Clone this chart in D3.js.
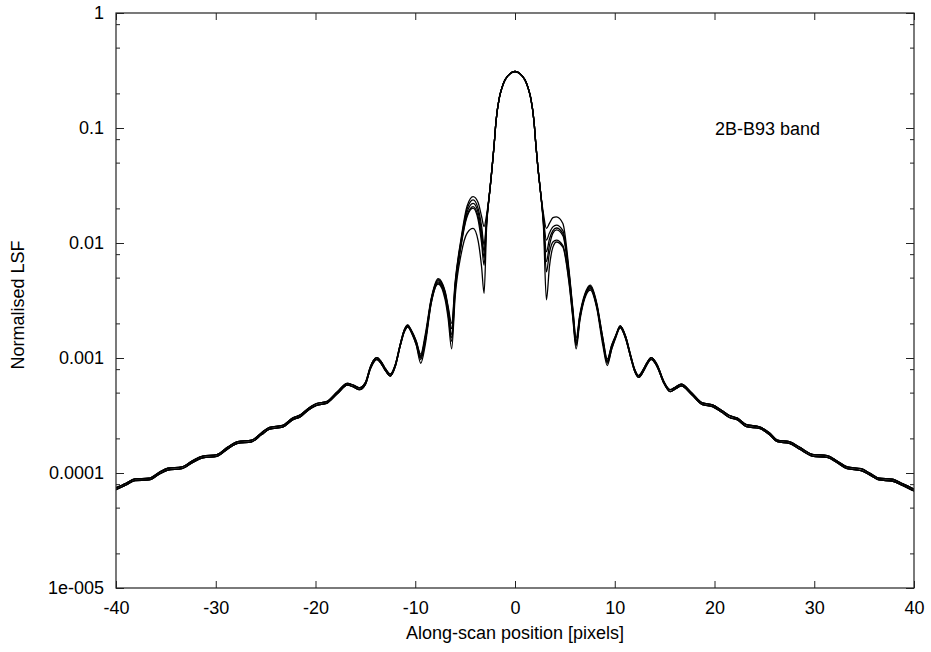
<!DOCTYPE html>
<html><head><meta charset="utf-8">
<script src="https://cdn.jsdelivr.net/npm/d3@7"></script>
<style>
body{margin:0;background:#fff}
svg{display:block}
text{font-family:"Liberation Sans",Arial,Helvetica,sans-serif;fill:#000}
</style>
</head><body>
<svg id="chart" width="931" height="652"></svg>
<script>
// ---- tick definitions ----
const xTickValues = [-40,-30,-20,-10,0,10,20,30,40];
const xTickLabels = ["-40","-30","-20","-10","0","10","20","30","40"];
const yTickValues = [1e-5,1e-4,1e-3,1e-2,1e-1,1];
const yTickLabels = ["1e-005","0.0001","0.001","0.01","0.1","1"];
const yMinorValues = [2e-5,5e-5,8e-5,2e-4,5e-4,8e-4,2e-3,5e-3,8e-3,2e-2,5e-2,8e-2,2e-1,5e-1,8e-1];

// ---- left wing: upper and lower edge of the bundle of curves ----
const wingLeftX = [-40,-39,-38.1,-36.7,-35.7,-34.8,-33.4,-32.3,-31.3,-29.9,-28.8,-27.8,-26.4,-25.4,-24.6,-23.3,-22.3,-21.5,-20.7,-19.9,-18.9,-17.8,-16.8,-16.2,-15.6,-15.0,-14.5,-14.2,-13.85,-13.45,-13.1,-12.5,-12.0,-11.5,-11.1,-10.75];
const wingLeftHi = [7.43e-5,8.14e-5,8.9e-5,9.0e-5,1.008e-4,1.10e-4,1.13e-4,1.283e-4,1.405e-4,1.446e-4,1.68e-4,1.873e-4,1.934e-4,2.24e-4,2.494e-4,2.596e-4,3.0e-4,3.21e-4,3.66e-4,4.02e-4,4.17e-4,5.09e-4,6.0e-4,5.8e-4,5.5e-4,6.1e-4,8.35e-4,9.47e-4,1.008e-3,9.37e-4,8.35e-4,7.23e-4,8.75e-4,1.32e-3,1.75e-3,1.93e-3];
const wingLeftLo = [7.17e-5,7.86e-5,8.6e-5,8.7e-5,9.72e-5,1.06e-4,1.09e-4,1.237e-4,1.355e-4,1.395e-4,1.62e-4,1.807e-4,1.866e-4,2.16e-4,2.406e-4,2.504e-4,2.9e-4,3.09e-4,3.54e-4,3.88e-4,4.03e-4,4.91e-4,5.8e-4,5.6e-4,5.3e-4,5.9e-4,8.05e-4,9.13e-4,9.72e-4,9.03e-4,8.05e-4,6.97e-4,8.45e-4,1.28e-3,1.69e-3,1.87e-3];

// ---- right wing ----
const wingRightX = [10.55,11.1,11.6,12.0,12.38,13.0,13.25,13.65,14.05,14.3,14.9,15.56,16.1,16.66,17.7,18.8,19.8,20.7,21.5,22.3,23.2,24.5,25.5,26.3,27.5,28.6,29.8,31.3,32.3,33.3,34.7,35.6,36.5,37.8,38.9,40];
const wingRightHi = [1.90e-3,1.53e-3,1.05e-3,7.94e-4,7.02e-4,8.35e-4,9.16e-4,1.008e-3,9.37e-4,8.55e-4,6.3e-4,5.3e-4,5.6e-4,5.92e-4,4.99e-4,4.07e-4,3.92e-4,3.51e-4,3.16e-4,3.0e-4,2.63e-4,2.52e-4,2.24e-4,1.93e-4,1.87e-4,1.66e-4,1.455e-4,1.415e-4,1.27e-4,1.13e-4,1.09e-4,9.93e-5,9.0e-5,8.84e-5,8.04e-5,7.23e-5];
const wingRightLo = [1.84e-3,1.47e-3,1.01e-3,7.66e-4,6.78e-4,8.05e-4,8.84e-4,9.72e-4,9.03e-4,8.25e-4,6.1e-4,5.1e-4,5.4e-4,5.72e-4,4.81e-4,3.93e-4,3.78e-4,3.39e-4,3.04e-4,2.9e-4,2.53e-4,2.44e-4,2.16e-4,1.87e-4,1.81e-4,1.6e-4,1.405e-4,1.365e-4,1.23e-4,1.09e-4,1.05e-4,9.57e-5,8.7e-5,8.52e-5,7.76e-5,6.97e-5];

// ---- core region, one array per curve ----
const coreX = [-10.4,-9.9,-9.45,-9.0,-8.4,-7.7,-7.0,-6.7,-6.35,-6.0,-5.4,-4.8,-4.2,-3.7,-3.35,-3.1,-2.85,-2.5,-2.3,-2.1,-1.9,-1.6,-1.3,-1.0,-0.5,0,0.5,1.0,1.3,1.6,1.9,2.1,2.3,2.5,2.85,3.15,3.45,3.8,4.15,4.8,5.4,5.8,6.13,6.5,7.0,7.55,8.2,8.8,9.25,9.7,10.1];
const curveA = [0.00175,0.00140,0.00108,0.0016,0.0033,0.0049,0.0038,0.0028,0.0020,0.0046,0.0110,0.0210,0.0253,0.0225,0.0170,0.0139,0.0175,0.030,0.045,0.070,0.115,0.178,0.225,0.262,0.297,0.31,0.297,0.262,0.225,0.178,0.115,0.070,0.045,0.031,0.0180,0.0134,0.0148,0.0166,0.0169,0.0148,0.0060,0.0027,0.0015,0.0024,0.0036,0.0043,0.0030,0.0015,0.00098,0.0013,0.00158];
const curveB = [0.00173,0.00140,0.00105,0.0015,0.0032,0.0048,0.0037,0.0027,0.0018,0.0044,0.0106,0.0198,0.0237,0.0200,0.0140,0.0096,0.0160,0.030,0.045,0.070,0.115,0.178,0.225,0.262,0.297,0.31,0.297,0.262,0.225,0.178,0.115,0.070,0.045,0.031,0.0165,0.0106,0.0122,0.0138,0.0143,0.0128,0.0057,0.0026,0.0014,0.0023,0.0035,0.0042,0.0029,0.0015,0.00095,0.0013,0.00156];
const curveC = [0.00172,0.00135,0.00102,0.0015,0.0032,0.0047,0.0036,0.0026,0.0016,0.0042,0.0102,0.0186,0.0221,0.0185,0.0125,0.0084,0.0155,0.030,0.045,0.070,0.115,0.178,0.225,0.262,0.297,0.31,0.297,0.262,0.225,0.178,0.115,0.070,0.045,0.031,0.0160,0.0084,0.0108,0.0128,0.0135,0.0121,0.0055,0.0025,0.00135,0.0023,0.0035,0.0042,0.0029,0.0014,0.00093,0.00125,0.00155];
const curveD = [0.00170,0.00135,0.00100,0.0014,0.0031,0.0046,0.0035,0.0025,0.0015,0.0040,0.0098,0.0175,0.0207,0.0170,0.0112,0.0074,0.0150,0.030,0.045,0.070,0.115,0.178,0.225,0.262,0.297,0.31,0.297,0.262,0.225,0.178,0.115,0.070,0.045,0.031,0.0155,0.0069,0.0095,0.0122,0.0130,0.0116,0.0053,0.0024,0.0013,0.0022,0.0034,0.0041,0.0028,0.0014,0.00092,0.00125,0.00154];
const curveE = [0.00169,0.00130,0.00097,0.0014,0.0030,0.0045,0.0034,0.0024,0.0014,0.0038,0.0095,0.0170,0.0201,0.0160,0.0100,0.0064,0.0145,0.030,0.045,0.070,0.115,0.178,0.225,0.262,0.297,0.31,0.297,0.262,0.225,0.178,0.115,0.070,0.045,0.031,0.0150,0.0056,0.0082,0.0102,0.0106,0.0095,0.0048,0.0023,0.00128,0.0022,0.0034,0.0040,0.0028,0.0014,0.00090,0.0012,0.00153];
const curveF = [0.00167,0.00130,0.00090,0.0013,0.0030,0.0044,0.0032,0.0022,0.0012,0.0034,0.0080,0.0122,0.0134,0.0105,0.0062,0.00365,0.0135,0.030,0.045,0.070,0.115,0.178,0.225,0.262,0.297,0.31,0.297,0.262,0.225,0.178,0.115,0.070,0.045,0.031,0.0140,0.0032,0.0062,0.0092,0.0102,0.0092,0.0046,0.0022,0.0012,0.0021,0.0033,0.0039,0.0027,0.0013,0.00086,0.0012,0.00150];
const coreSeries = [curveA,curveB,curveC,curveD,curveE,curveF];
const seriesWingEdge = ["hi","lo","hi","lo","hi","lo"];

// ---- layout ----
const plot = {left:116, right:914, top:13, bottom:588};
const FS = "18px";
const svg = d3.select("#chart");

const x = d3.scaleLinear().domain([-40,40]).range([plot.left, plot.right]);
const y = d3.scaleLog().domain([1e-5,1]).range([plot.bottom, plot.top]);

svg.append("defs").append("clipPath").attr("id","clip")
  .append("rect").attr("x",plot.left).attr("y",plot.top)
  .attr("width",plot.right-plot.left).attr("height",plot.bottom-plot.top);

const series = coreSeries.map((core,k) => {
  const hi = seriesWingEdge[k] === "hi";
  const wl = hi ? wingLeftHi : wingLeftLo;
  const wr = hi ? wingRightHi : wingRightLo;
  const pts = [];
  wingLeftX.forEach((xv,i)=>pts.push([xv, wl[i]]));
  coreX.forEach((xv,i)=>pts.push([xv, core[i]]));
  wingRightX.forEach((xv,i)=>pts.push([xv, wr[i]]));
  return pts;
});

const line = d3.line().x(d=>x(d[0])).y(d=>y(d[1])).curve(d3.curveMonotoneX);

svg.append("g").attr("clip-path","url(#clip)")
  .selectAll("path").data(series).join("path")
  .attr("d", line)
  .attr("fill","none").attr("stroke","#000").attr("stroke-width",1.3);

const axColor = "#222";
function styleAxis(g){
  g.select(".domain").remove();
  g.selectAll(".tick line").attr("stroke",axColor).attr("stroke-width",1);
  g.selectAll(".tick text").style("font-size",FS).attr("fill","#000");
}
svg.append("g").attr("transform",`translate(0,${plot.bottom})`)
  .call(d3.axisBottom(x).tickValues(xTickValues).tickSize(-7).tickPadding(13).tickFormat((d,i)=>xTickLabels[i]))
  .call(styleAxis);
svg.append("g").attr("transform",`translate(0,${plot.top})`)
  .call(d3.axisTop(x).tickValues(xTickValues).tickSize(-7).tickFormat(""))
  .call(styleAxis);
svg.append("g").attr("transform",`translate(${plot.left},0)`)
  .call(d3.axisLeft(y).tickValues(yTickValues).tickSize(-8).tickPadding(12).tickFormat((d,i)=>yTickLabels[i]))
  .call(styleAxis);
svg.append("g").attr("transform",`translate(${plot.right},0)`)
  .call(d3.axisRight(y).tickValues(yTickValues).tickSize(-8).tickFormat(""))
  .call(styleAxis);
svg.append("g").attr("transform",`translate(${plot.left},0)`)
  .call(d3.axisLeft(y).tickValues(yMinorValues).tickSize(-4).tickFormat(""))
  .call(styleAxis);
svg.append("g").attr("transform",`translate(${plot.right},0)`)
  .call(d3.axisRight(y).tickValues(yMinorValues).tickSize(-4).tickFormat(""))
  .call(styleAxis);

svg.append("rect").attr("x",plot.left).attr("y",plot.top)
  .attr("width",plot.right-plot.left).attr("height",plot.bottom-plot.top)
  .attr("fill","none").attr("stroke",axColor).attr("stroke-width",1.2);

svg.append("text").attr("x",(plot.left+plot.right)/2).attr("y",639)
  .attr("text-anchor","middle").style("font-size",FS)
  .text("Along-scan position [pixels]");
svg.append("text").attr("transform",`translate(24,305) rotate(-90)`)
  .attr("text-anchor","middle").style("font-size",FS)
  .text("Normalised LSF");
svg.append("text").attr("x",715).attr("y",135)
  .style("font-size",FS).text("2B-B93 band");
</script>
</body></html>
